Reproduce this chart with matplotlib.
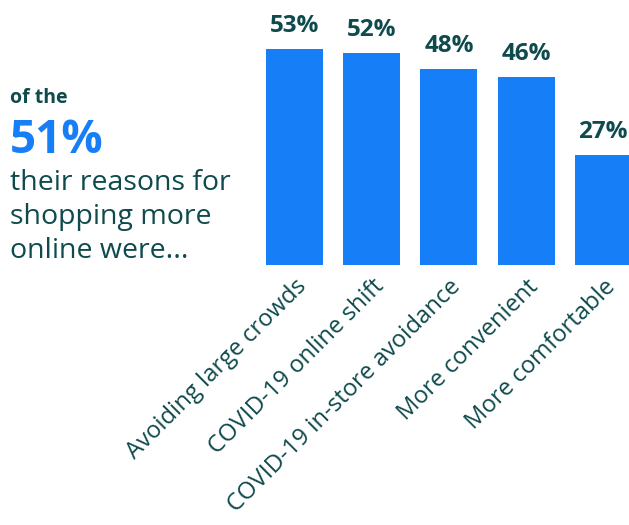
import matplotlib.pyplot as plt

reasons = [
    "Avoiding large crowds",
    "COVID-19 online shift",
    "COVID-19 in-store avoidance",
    "More convenient",
    "More comfortable",
]
shares = [53, 52, 48, 46, 27]
headline = 51

blue = "#167ff8"
teal = "#0f4a4c"
plt.rcParams["font.family"] = ["Open Sans", "DejaVu Sans"]

fig = plt.figure(figsize=(6.29, 5.25), dpi=100)
ax = fig.add_axes([260 / 629, 260 / 525, 369 / 629, 265 / 525])

x = list(range(len(reasons)))
bars = ax.bar(x, shares, width=0.74, color=blue)
for b, v in zip(bars, shares):
    ax.text(b.get_x() + b.get_width() / 2, v + 2.7, f"{v}%",
            ha="center", va="bottom", fontsize=17.5, fontweight="bold", color=teal)

ax.set_xlim(-0.447, 4.333)
ax.set_ylim(0, 65)
ax.set_xticks(x)
ax.set_xticklabels(reasons, rotation=45, ha="right", rotation_mode="anchor",
                   fontsize=17.2, color=teal)
ax.tick_params(axis="x", length=0, pad=7)
ax.set_yticks([])
for s in ax.spines.values():
    s.set_visible(False)

# left-hand caption
fig.text(10 / 629, 1 - 103 / 525, "of the", fontsize=14, fontweight="bold",
         color=teal, va="baseline")
fig.text(10 / 629, 1 - 153 / 525, f"{headline}%", fontsize=33, fontweight="bold",
         color=blue, va="baseline")
for i, line in enumerate(["their reasons for", "shopping more", "online were..."]):
    fig.text(10 / 629, 1 - (190 + 34 * i) / 525, line, fontsize=20.5,
             color=teal, va="baseline")

fig.savefig("out.png", dpi=100)
